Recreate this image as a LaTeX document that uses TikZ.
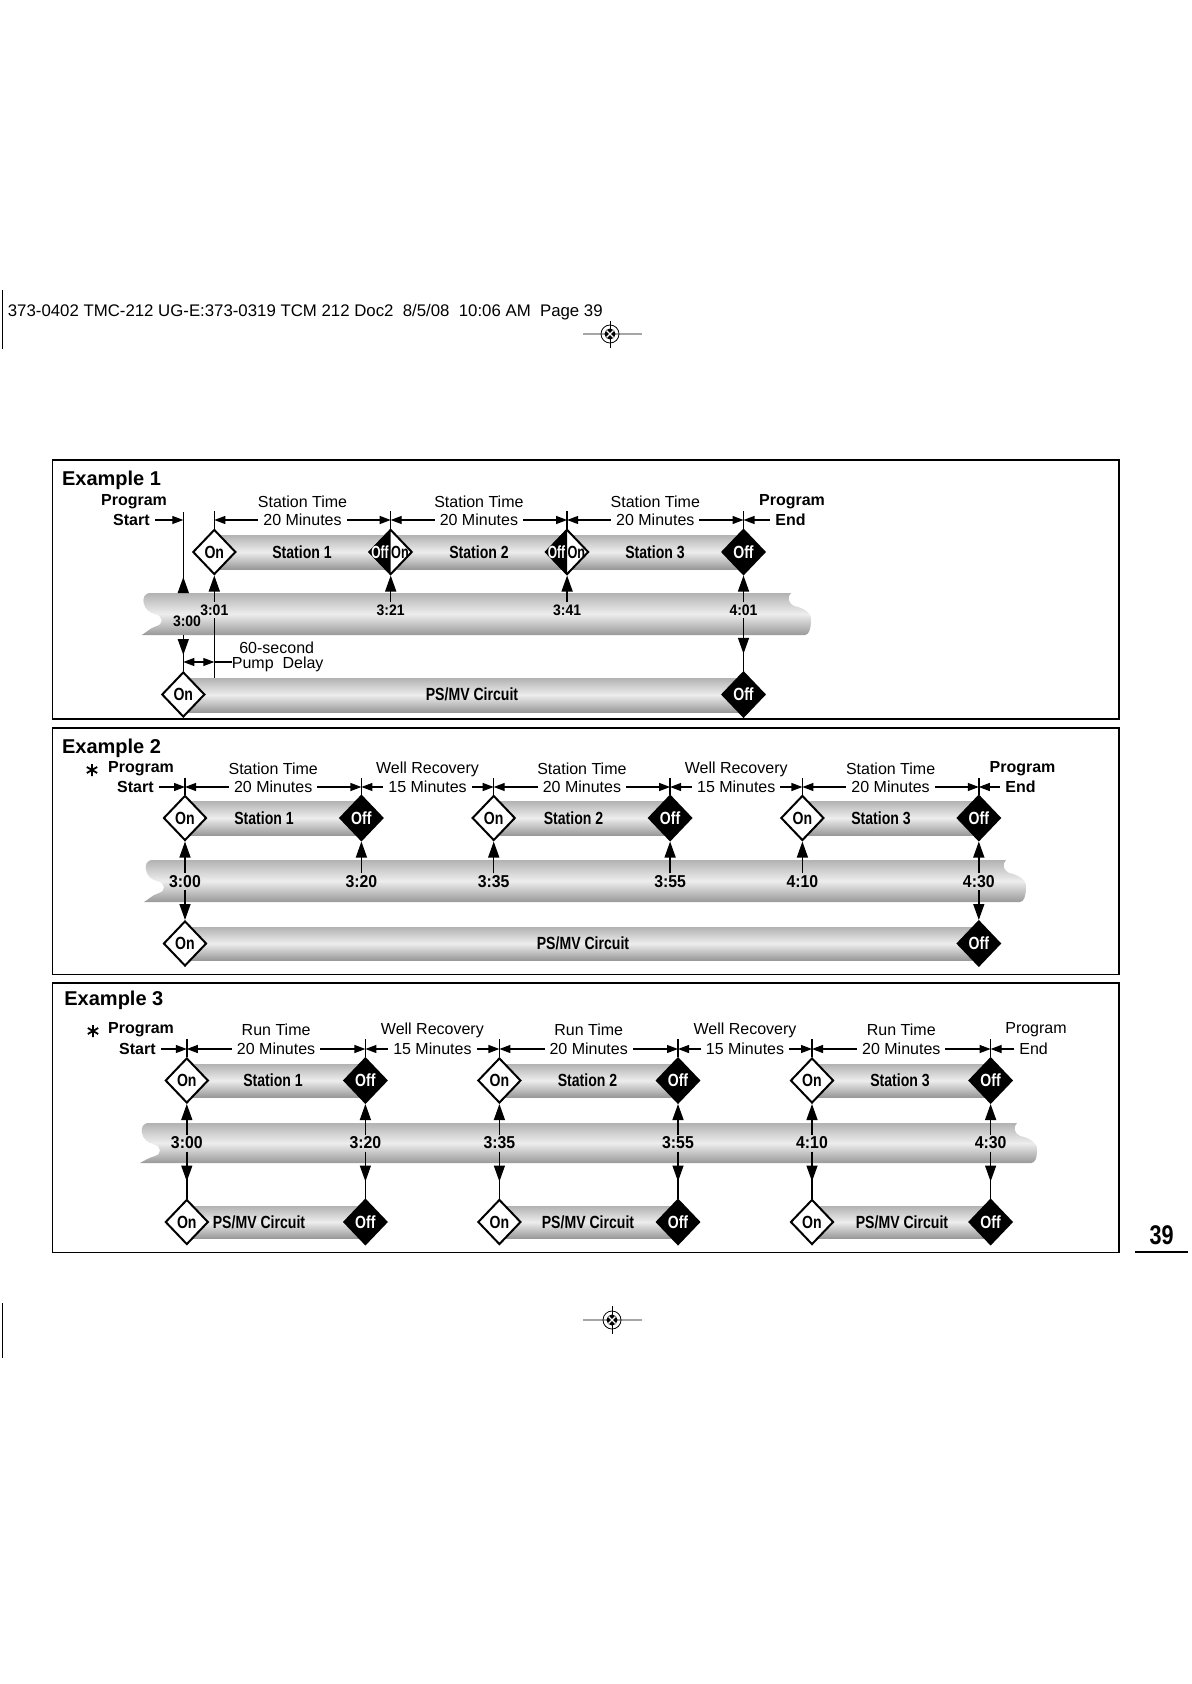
\documentclass[tikz,border=0pt]{standalone}
\usepackage{graphicx}
\usepackage{fontspec}
\setmainfont{Liberation Sans}
\newfontfamily\narrowfont{Liberation Sans}[FakeStretch=0.8]
\newfontfamily\timefont{Liberation Sans}[FakeStretch=0.92]
\usetikzlibrary{arrows.meta,shapes.geometric,decorations.markings}
\newcommand\brokenpipe[4]{%
  \path[pipe] (#1+9,#3) -- (#2-20,#3)
    .. controls (#2-24,#3+4) and (#2-23,#3+10) .. (#2-17,#3+13)
    .. controls (#2-2,#3+16) and (#2+1,#3+24) .. (#2,#3+28)
    .. controls (#2,#3+35) and (#2-2,#4) .. (#2-6,#4)
    -- (#1,#4)
    .. controls (#1+4,#4-2) and (#1+8,#3+35) .. (#1+15,#3+33)
    .. controls (#1+22,#3+31) and (#1+22,#3+23) .. (#1+13,#3+21)
    .. controls (#1+8,#3+20) and (#1+3,#3+16) .. (#1+2,#3+10)
    .. controls (#1+1,#3+6) and (#1+2,#3) .. (#1+9,#3) -- cycle;}
\tikzset{
  lbl/.style={font=\fontsize{8}{9}\selectfont,inner sep=0pt},
  lblb/.style={font=\bfseries\fontsize{8}{9}\selectfont,inner sep=0pt},
  extitle/.style={font=\bfseries\fontsize{10}{12}\selectfont,anchor=base west,inner sep=0pt},
  cond/.style={font=\narrowfont\bfseries\fontsize{8.8}{10}\selectfont},
  timesm/.style={font=\timefont\bfseries\fontsize{7.6}{9}\selectfont,inner sep=1pt},
  timelg/.style={font=\timefont\bfseries\fontsize{8.6}{10}\selectfont,inner sep=1pt},
  ondia/.style={diamond,draw,line width=1pt,fill=white,minimum width=21.5pt,
    minimum height=22.5pt,inner sep=0pt,cond},
  offdia/.style={ondia,fill=black,text=white},
  pipe/.style={top color=black!30,bottom color=black!40,middle color=black!7},
  tline/.style={line width=0.7pt},
  uparr/.style={tline,-{Triangle[width=5.5pt,length=8pt]}},
  midtip/.style={tline,postaction={decorate},decoration={markings,
    mark=at position #1 with {\arrow{Triangle[width=5.5pt,length=8pt]}}}},
  dim/.style={line width=0.6pt,{Triangle[width=4pt,length=5.5pt]}-{Triangle[width=4pt,length=5.5pt]}},
  dimone/.style={line width=0.6pt,-{Triangle[width=4pt,length=5.5pt]},shorten <=2.5pt},
  mins/.style={lbl,fill=white,inner xsep=2.5pt},
  frame/.style={draw,line width=0.75pt},
}
\begin{document}
\begin{tikzpicture}[x=0.5pt,y=-0.5pt]
  \fill[white] (0,0) rectangle (1191,1684);
  \useasboundingbox (0,0) rectangle (1191,1684);
  \node[anchor=base west,inner sep=0pt,font=\fontsize{8.4}{10}\selectfont] (hdr) at (7.5,316.4)
    {373-0402 TMC-212 UG-E:373-0319 TCM 212 Doc2~ 8/5/08~ 10:06 AM~ Page 39};
  \draw[line width=0.6pt] (2.5,290) -- (2.5,349);
  \draw[line width=0.6pt] (2.5,1303) -- (2.5,1358);
  \draw[black!35,line width=1pt] (583,334) -- (642,334);
  \draw[line width=0.4pt] (610,321) -- (610,348);
  \draw[line width=0.4pt] (610,334) circle (9);
  \fill (610,334) circle (5.5);
  \draw[white,line width=0.6pt] (606.5,330.5) -- (613.5,337.5) (606.5,337.5) -- (613.5,330.5);
  \draw[black!35,line width=1pt] (583,1320) -- (642,1320);
  \draw[line width=0.4pt] (612,1306) -- (612,1334);
  \draw[line width=0.4pt] (612,1320) circle (9);
  \fill (612,1320) circle (5.5);
  \draw[white,line width=0.6pt] (608.5,1316.5) -- (615.5,1323.5) (608.5,1323.5) -- (615.5,1316.5);
  \node[font=\narrowfont\bfseries\fontsize{13.5}{15}\selectfont] (pgno) at (1161.5,1235) {39};
  \draw[line width=1pt] (1135,1252) -- (1188,1252);

  \draw[frame] (52.7,460) rectangle (1119,719);
  \node[extitle] (ex1) at (61.7,485.7) {Example 1};
  \fill[pipe] (214.3,535) rectangle (743.5,569);
  \brokenpipe{141.7}{811}{593}{635}
  \fill[pipe] (183.3,678) rectangle (743.5,712);
  \coordinate (r1) at (0,520);
  \node[ondia] (a1) at (214.3,552) {On};
  \node[ondia] (a2) at (390.7,552) {};
  \node[ondia] (a3) at (567.1,552) {};
  \node[offdia] (a4) at (743.5,552) {Off};
  \fill (a2.north) -- (a2.west) -- (a2.south) -- cycle;
  \fill (a3.north) -- (a3.west) -- (a3.south) -- cycle;
  \node[cond,text=white,inner sep=0pt] (a2off) at (380,552) {\scalebox{0.85}[1]{Off}};
  \node[cond,inner sep=0pt] (a2on) at (400,552) {\scalebox{0.9}[1]{On}};
  \node[cond,text=white,inner sep=0pt] (a3off) at (556.4,552) {\scalebox{0.85}[1]{Off}};
  \node[cond,inner sep=0pt] (a3on) at (576.4,552) {\scalebox{0.9}[1]{On}};
  \node[ondia] (a0p) at (183.3,694.5) {On};
  \node[offdia] (a4p) at (743.5,694.5) {Off};
  \node[cond] (sta1) at (302,552) {Station 1};
  \node[cond] (sta2) at (479,552) {Station 2};
  \node[cond] (sta3) at (655,552) {Station 3};
  \node[cond] (psa) at (472,694.5) {PS/MV Circuit};
  \node[timesm] (t300) at (187,621.5) {3:00};
  \node[timesm] (t301) at (214.3,610) {3:01};
  \node[timesm] (t321) at (390.7,610) {3:21};
  \node[timesm] (t341) at (567.1,610) {3:41};
  \node[timesm] (t401) at (743.5,610) {4:01};
  \coordinate (s1) at (183.3,512);
  \coordinate (s1p) at (183.3,593);
  \coordinate (s1q) at (183.3,635);
  \coordinate (pm1) at (214.3,678);
  \draw[midtip=8pt] (s1p) -- (s1);
  \draw[midtip=10pt] (s1q) -- (a0p.north);
  \draw[tline] (a1.north) -- ++(0,-18);
  \draw[tline] (a2.north) -- ++(0,-18);
  \draw[tline] (a3.north) -- ++(0,-18);
  \draw[tline] (a4.north) -- ++(0,-18);
  \draw[uparr] (t301.north) -- (a1.south);
  \draw[uparr] (t321.north) -- (a2.south);
  \draw[uparr] (t341.north) -- (a3.south);
  \draw[uparr] (t401.north) -- (a4.south);
  \draw[tline] (t301.south) -- (pm1);
  \draw[midtip=18pt] (t401.south) -- (a4p.north);
  \coordinate (pd0) at (183.3,662);
  \coordinate (pd1) at (214.3,662);
  \draw[dim] (pd0) -- (pd1);
  \node[lbl] (sec60) at (276.7,647.7) {60-second};
  \node[lbl,anchor=west] (pump) at (231.5,664) {Pump~ Delay};
  \draw[line width=0.6pt] (pd1) -- (pump.west |- pd1);
  \node[lblb] (pgs1) at (134,502) {Program};
  \node[lblb,anchor=east] (sts1) at (150,520) {Start};
  \draw[dimone] (sts1.east) -- (s1 |- r1);
  \node[lblb] (pge1) at (792,502) {Program};
  \node[lblb,anchor=west] (end1) at (775,520) {End};
  \draw[dimone] (end1.west) -- (a4.north |- r1);
  \node[lbl] (la1) at (302.5,502) {Station Time};
  \node[lbl] (la2) at (478.9,502) {Station Time};
  \node[lbl] (la3) at (655.3,502) {Station Time};
  \draw[dim] (a1.north |- r1) -- node[mins] {20 Minutes} (a2.north |- r1);
  \draw[dim] (a2.north |- r1) -- node[mins] {20 Minutes} (a3.north |- r1);
  \draw[dim] (a3.north |- r1) -- node[mins] {20 Minutes} (a4.north |- r1);

  \draw[frame] (52.7,728) rectangle (1119,974.5);
  \node[extitle] (ex2) at (61.7,753.3) {Example 2};
  \fill[pipe] (185,801) rectangle (361.4,835);
  \fill[pipe] (493.7,801) rectangle (670.1,835);
  \fill[pipe] (802.4,801) rectangle (978.8,835);
  \brokenpipe{144}{1026}{860}{902}
  \fill[pipe] (185,927) rectangle (978.8,960);
  \coordinate (r2) at (0,787);
  \node[ondia] (b0) at (185,818) {On};
  \node[offdia] (b1) at (361.4,818) {Off};
  \node[ondia] (b2) at (493.7,818) {On};
  \node[offdia] (b3) at (670.1,818) {Off};
  \node[ondia] (b4) at (802.4,818) {On};
  \node[offdia] (b5) at (978.8,818) {Off};
  \node[ondia] (b0p) at (185,943.5) {On};
  \node[offdia] (b5p) at (978.8,943.5) {Off};
  \node[cond] (stb1) at (264,818) {Station 1};
  \node[cond] (stb2) at (573.5,818) {Station 2};
  \node[cond] (stb3) at (881,818) {Station 3};
  \node[cond] (psb) at (583,943.5) {PS/MV Circuit};
  \node[timelg] (u300) at (185,881.5) {3:00};
  \node[timelg] (u320) at (361.4,881.5) {3:20};
  \node[timelg] (u335) at (493.7,881.5) {3:35};
  \node[timelg] (u355) at (670.1,881.5) {3:55};
  \node[timelg] (u410) at (802.4,881.5) {4:10};
  \node[timelg] (u430) at (978.8,881.5) {4:30};
  \draw[tline] (b0.north) -- ++(0,-17);
  \draw[tline] (b1.north) -- ++(0,-17);
  \draw[tline] (b2.north) -- ++(0,-17);
  \draw[tline] (b3.north) -- ++(0,-17);
  \draw[tline] (b4.north) -- ++(0,-17);
  \draw[tline] (b5.north) -- ++(0,-17);
  \draw[uparr] (u300.north) -- (b0.south);
  \draw[uparr] (u320.north) -- (b1.south);
  \draw[uparr] (u335.north) -- (b2.south);
  \draw[uparr] (u355.north) -- (b3.south);
  \draw[uparr] (u410.north) -- (b4.south);
  \draw[uparr] (u430.north) -- (b5.south);
  \draw[uparr] (u300.south) -- (b0p.north);
  \draw[uparr] (u430.south) -- (b5p.north);
  \draw[line width=0.9pt] (92,764) -- (92,776) (86.8,767) -- (97.2,773) (86.8,773) -- (97.2,767);
  \node[lblb] (pgs2) at (141,769) {Program};
  \node[lblb,anchor=east] (sts2) at (154,787) {Start};
  \draw[dimone] (sts2.east) -- (b0.north |- r2);
  \node[lblb] (pge2) at (1022.5,769) {Program};
  \node[lblb,anchor=west] (end2) at (1005,787) {End};
  \draw[dimone] (end2.west) -- (b5.north |- r2);
  \node[lbl] (lb1) at (273.2,769) {Station Time};
  \node[lbl] (lb2) at (427.5,769) {Well Recovery};
  \node[lbl] (lb3) at (581.9,769) {Station Time};
  \node[lbl] (lb4) at (736.2,769) {Well Recovery};
  \node[lbl] (lb5) at (890.6,769) {Station Time};
  \draw[dim] (b0.north |- r2) -- node[mins] {20 Minutes} (b1.north |- r2);
  \draw[dim] (b1.north |- r2) -- node[mins] {15 Minutes} (b2.north |- r2);
  \draw[dim] (b2.north |- r2) -- node[mins] {20 Minutes} (b3.north |- r2);
  \draw[dim] (b3.north |- r2) -- node[mins] {15 Minutes} (b4.north |- r2);
  \draw[dim] (b4.north |- r2) -- node[mins] {20 Minutes} (b5.north |- r2);

  \draw[frame] (52.7,983) rectangle (1119,1252.5);
  \node[extitle] (ex3) at (64,1005) {Example 3};
  \fill[pipe] (186.8,1064) rectangle (365.4,1097);
  \fill[pipe] (499.4,1064) rectangle (678,1097);
  \fill[pipe] (812,1064) rectangle (990.6,1097);
  \brokenpipe{140}{1037}{1123}{1163}
  \fill[pipe] (186.8,1206) rectangle (365.4,1238);
  \fill[pipe] (499.4,1206) rectangle (678,1238);
  \fill[pipe] (812,1206) rectangle (990.6,1238);
  \coordinate (r3) at (0,1049);
  \node[ondia] (c0) at (186.8,1080.5) {On};
  \node[offdia] (c1) at (365.4,1080.5) {Off};
  \node[ondia] (c2) at (499.4,1080.5) {On};
  \node[offdia] (c3) at (678,1080.5) {Off};
  \node[ondia] (c4) at (812,1080.5) {On};
  \node[offdia] (c5) at (990.6,1080.5) {Off};
  \node[ondia] (c0p) at (186.8,1222) {On};
  \node[offdia] (c1p) at (365.4,1222) {Off};
  \node[ondia] (c2p) at (499.4,1222) {On};
  \node[offdia] (c3p) at (678,1222) {Off};
  \node[ondia] (c4p) at (812,1222) {On};
  \node[offdia] (c5p) at (990.6,1222) {Off};
  \node[cond] (stc1) at (273,1080.5) {Station 1};
  \node[cond] (stc2) at (587.5,1080.5) {Station 2};
  \node[cond] (stc3) at (900,1080.5) {Station 3};
  \node[cond] (psc1) at (259,1222) {PS/MV Circuit};
  \node[cond] (psc2) at (588,1222) {PS/MV Circuit};
  \node[cond] (psc3) at (902,1222) {PS/MV Circuit};
  \node[timelg] (v300) at (186.8,1143) {3:00};
  \node[timelg] (v320) at (365.4,1143) {3:20};
  \node[timelg] (v335) at (499.4,1143) {3:35};
  \node[timelg] (v355) at (678,1143) {3:55};
  \node[timelg] (v410) at (812,1143) {4:10};
  \node[timelg] (v430) at (990.6,1143) {4:30};
  \draw[tline] (c0.north) -- ++(0,-18);
  \draw[tline] (c1.north) -- ++(0,-18);
  \draw[tline] (c2.north) -- ++(0,-18);
  \draw[tline] (c3.north) -- ++(0,-18);
  \draw[tline] (c4.north) -- ++(0,-18);
  \draw[tline] (c5.north) -- ++(0,-18);
  \draw[uparr] (v300.north) -- (c0.south);
  \draw[uparr] (v320.north) -- (c1.south);
  \draw[uparr] (v335.north) -- (c2.south);
  \draw[uparr] (v355.north) -- (c3.south);
  \draw[uparr] (v410.north) -- (c4.south);
  \draw[uparr] (v430.north) -- (c5.south);
  \draw[midtip=15pt] (v300.south) -- (c0p.north);
  \draw[midtip=15pt] (v320.south) -- (c1p.north);
  \draw[midtip=15pt] (v335.south) -- (c2p.north);
  \draw[midtip=15pt] (v355.south) -- (c3p.north);
  \draw[midtip=15pt] (v410.south) -- (c4p.north);
  \draw[midtip=15pt] (v430.south) -- (c5p.north);
  \draw[line width=0.9pt] (93,1025) -- (93,1037) (87.8,1028) -- (98.2,1034) (87.8,1034) -- (98.2,1028);
  \node[lblb] (pgs3) at (141,1030) {Program};
  \node[lblb,anchor=east] (sts3) at (156,1049) {Start};
  \draw[dimone] (sts3.east) -- (c0.north |- r3);
  \node[lbl] (pge3) at (1036,1030) {Program};
  \node[lbl,anchor=west] (end3) at (1019,1049) {End};
  \draw[dimone] (end3.west) -- (c5.north |- r3);
  \node[lbl] (lc1) at (276.1,1030) {Run Time};
  \node[lbl] (lc2) at (432.4,1030) {Well Recovery};
  \node[lbl] (lc3) at (588.7,1030) {Run Time};
  \node[lbl] (lc4) at (745,1030) {Well Recovery};
  \node[lbl] (lc5) at (901.3,1030) {Run Time};
  \draw[dim] (c0.north |- r3) -- node[mins] {20 Minutes} (c1.north |- r3);
  \draw[dim] (c1.north |- r3) -- node[mins] {15 Minutes} (c2.north |- r3);
  \draw[dim] (c2.north |- r3) -- node[mins] {20 Minutes} (c3.north |- r3);
  \draw[dim] (c3.north |- r3) -- node[mins] {15 Minutes} (c4.north |- r3);
  \draw[dim] (c4.north |- r3) -- node[mins] {20 Minutes} (c5.north |- r3);
\end{tikzpicture}
\end{document}
